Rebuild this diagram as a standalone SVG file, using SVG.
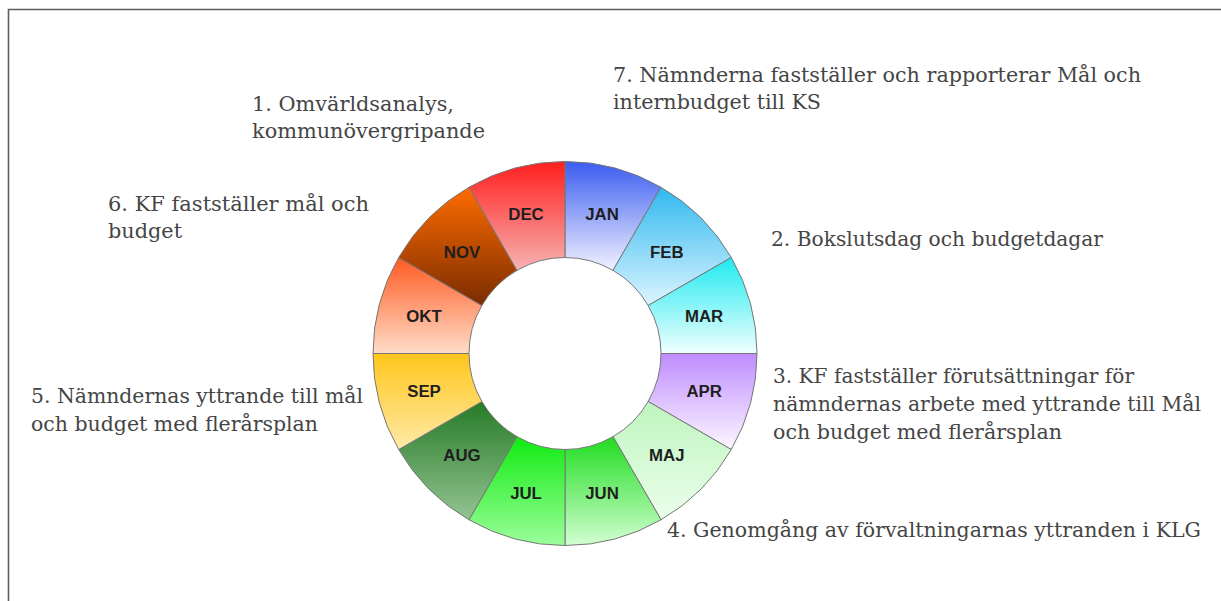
<svg xmlns="http://www.w3.org/2000/svg" width="1221" height="601" viewBox="0 0 1221 601">
<style>
.seg{stroke:#777777;stroke-width:1}
.mon{font-family:"Liberation Sans",Arial,sans-serif;font-weight:bold;font-size:16.8px;fill:#1e1e1e;text-anchor:middle}
.lbl{font-family:"DejaVu Serif","Liberation Serif",serif;font-size:20.5px;fill:#454545}
</style>
<defs>
<linearGradient id="gJAN" x1="0" y1="0" x2="0" y2="1"><stop offset="0" stop-color="#3b5cf0"/><stop offset="1" stop-color="#f2f2ff"/></linearGradient>
<linearGradient id="gFEB" x1="0" y1="0" x2="0" y2="1"><stop offset="0" stop-color="#30b8ef"/><stop offset="1" stop-color="#dcf5ff"/></linearGradient>
<linearGradient id="gMAR" x1="0" y1="0" x2="0" y2="1"><stop offset="0" stop-color="#1eeaf0"/><stop offset="1" stop-color="#f2ffff"/></linearGradient>
<linearGradient id="gAPR" x1="0" y1="0" x2="0" y2="1"><stop offset="0" stop-color="#bf8cff"/><stop offset="1" stop-color="#fcf8ff"/></linearGradient>
<linearGradient id="gMAJ" x1="0" y1="0" x2="0" y2="1"><stop offset="0" stop-color="#bff4bf"/><stop offset="1" stop-color="#eaffea"/></linearGradient>
<linearGradient id="gJUN" x1="0" y1="0" x2="0" y2="1"><stop offset="0" stop-color="#1fdc1f"/><stop offset="1" stop-color="#d2ffd2"/></linearGradient>
<linearGradient id="gJUL" x1="0" y1="0" x2="0" y2="1"><stop offset="0" stop-color="#10ea10"/><stop offset="1" stop-color="#9cff9c"/></linearGradient>
<linearGradient id="gAUG" x1="0" y1="0" x2="0" y2="1"><stop offset="0" stop-color="#267a26"/><stop offset="1" stop-color="#93c493"/></linearGradient>
<linearGradient id="gSEP" x1="0" y1="0" x2="0" y2="1"><stop offset="0" stop-color="#ffc61a"/><stop offset="1" stop-color="#ffeaa8"/></linearGradient>
<linearGradient id="gOKT" x1="0" y1="0" x2="0" y2="1"><stop offset="0" stop-color="#ff5a22"/><stop offset="1" stop-color="#ffdcc8"/></linearGradient>
<linearGradient id="gNOV" x1="0" y1="0" x2="0" y2="1"><stop offset="0" stop-color="#ff6c00"/><stop offset="1" stop-color="#7a2c00"/></linearGradient>
<linearGradient id="gDEC" x1="0" y1="0" x2="0" y2="1"><stop offset="0" stop-color="#ff1e1e"/><stop offset="1" stop-color="#f7b2b2"/></linearGradient>
</defs>
<rect x="0" y="0" width="1221" height="601" fill="#ffffff"/>
<path d="M8.5,601 L8.5,9.5 L1221,9.5" fill="none" stroke="#5e5e5e" stroke-width="1.6"/>

<g id="ring">
<g id="jan"><path class="seg" fill="url(#gJAN)" d="M565,161.5 A192,192 0 0 1 661,187.22 L613,270.36 A96,96 0 0 0 565,257.5 Z"/><text class="mon" x="602" y="220.4">JAN</text></g>
<g id="feb"><path class="seg" fill="url(#gFEB)" d="M661,187.22 A192,192 0 0 1 731.28,257.5 L648.14,305.5 A96,96 0 0 0 613,270.36 Z"/><text class="mon" x="666.8" y="257.7">FEB</text></g>
<g id="mar"><path class="seg" fill="url(#gMAR)" d="M731.28,257.5 A192,192 0 0 1 757,353.5 L661,353.5 A96,96 0 0 0 648.14,305.5 Z"/><text class="mon" x="704.1" y="322.2">MAR</text></g>
<g id="apr"><path class="seg" fill="url(#gAPR)" d="M757,353.5 A192,192 0 0 1 731.28,449.5 L648.14,401.5 A96,96 0 0 0 661,353.5 Z"/><text class="mon" x="704.1" y="396.8">APR</text></g>
<g id="maj"><path class="seg" fill="url(#gMAJ)" d="M731.28,449.5 A192,192 0 0 1 661,519.78 L613,436.64 A96,96 0 0 0 648.14,401.5 Z"/><text class="mon" x="666.8" y="461.3">MAJ</text></g>
<g id="jun"><path class="seg" fill="url(#gJUN)" d="M661,519.78 A192,192 0 0 1 565,545.5 L565,449.5 A96,96 0 0 0 613,436.64 Z"/><text class="mon" x="602" y="498.6">JUN</text></g>
<g id="jul"><path class="seg" fill="url(#gJUL)" d="M565,545.5 A192,192 0 0 1 469,519.78 L517,436.64 A96,96 0 0 0 565,449.5 Z"/><text class="mon" x="526" y="498.6">JUL</text></g>
<g id="aug"><path class="seg" fill="url(#gAUG)" d="M469,519.78 A192,192 0 0 1 398.72,449.5 L481.86,401.5 A96,96 0 0 0 517,436.64 Z"/><text class="mon" x="462" y="461.3">AUG</text></g>
<g id="sep"><path class="seg" fill="url(#gSEP)" d="M398.72,449.5 A192,192 0 0 1 373,353.5 L469,353.5 A96,96 0 0 0 481.86,401.5 Z"/><text class="mon" x="424" y="396.8">SEP</text></g>
<g id="okt"><path class="seg" fill="url(#gOKT)" d="M373,353.5 A192,192 0 0 1 398.72,257.5 L481.86,305.5 A96,96 0 0 0 469,353.5 Z"/><text class="mon" x="424" y="322.2">OKT</text></g>
<g id="nov"><path class="seg" fill="url(#gNOV)" d="M398.72,257.5 A192,192 0 0 1 469,187.22 L517,270.36 A96,96 0 0 0 481.86,305.5 Z"/><text class="mon" x="462" y="257.7">NOV</text></g>
<g id="dec"><path class="seg" fill="url(#gDEC)" d="M469,187.22 A192,192 0 0 1 565,161.5 L565,257.5 A96,96 0 0 0 517,270.36 Z"/><text class="mon" x="526" y="220.4">DEC</text></g>
</g>

<g id="connectors"></g>

<g id="step1"><text class="lbl" x="252" y="111" textLength="202" lengthAdjust="spacingAndGlyphs">1. Omvärldsanalys,</text><text class="lbl" x="252" y="138" textLength="233" lengthAdjust="spacingAndGlyphs">kommunövergripande</text></g>
<g id="step7"><text class="lbl" x="613" y="82" textLength="528" lengthAdjust="spacingAndGlyphs">7. Nämnderna fastställer och rapporterar Mål och</text><text class="lbl" x="613" y="109" textLength="208" lengthAdjust="spacingAndGlyphs">internbudget till KS</text></g>
<g id="step6"><text class="lbl" x="108" y="211" textLength="261" lengthAdjust="spacingAndGlyphs">6. KF fastställer mål och</text><text class="lbl" x="108" y="238" textLength="74" lengthAdjust="spacingAndGlyphs">budget</text></g>
<g id="step2"><text class="lbl" x="771" y="246" textLength="332" lengthAdjust="spacingAndGlyphs">2. Bokslutsdag och budgetdagar</text></g>
<g id="step3"><text class="lbl" x="773" y="383" textLength="361" lengthAdjust="spacingAndGlyphs">3. KF fastställer förutsättningar för</text><text class="lbl" x="773" y="411" textLength="428" lengthAdjust="spacingAndGlyphs">nämndernas arbete med yttrande till Mål</text><text class="lbl" x="773" y="439" textLength="289" lengthAdjust="spacingAndGlyphs">och budget med flerårsplan</text></g>
<g id="step4"><text class="lbl" x="667" y="537" textLength="534" lengthAdjust="spacingAndGlyphs">4. Genomgång av förvaltningarnas yttranden i KLG</text></g>
<g id="step5"><text class="lbl" x="31" y="403" textLength="332" lengthAdjust="spacingAndGlyphs">5. Nämndernas yttrande till mål</text><text class="lbl" x="31" y="431" textLength="287" lengthAdjust="spacingAndGlyphs">och budget med flerårsplan</text></g>
</svg>
